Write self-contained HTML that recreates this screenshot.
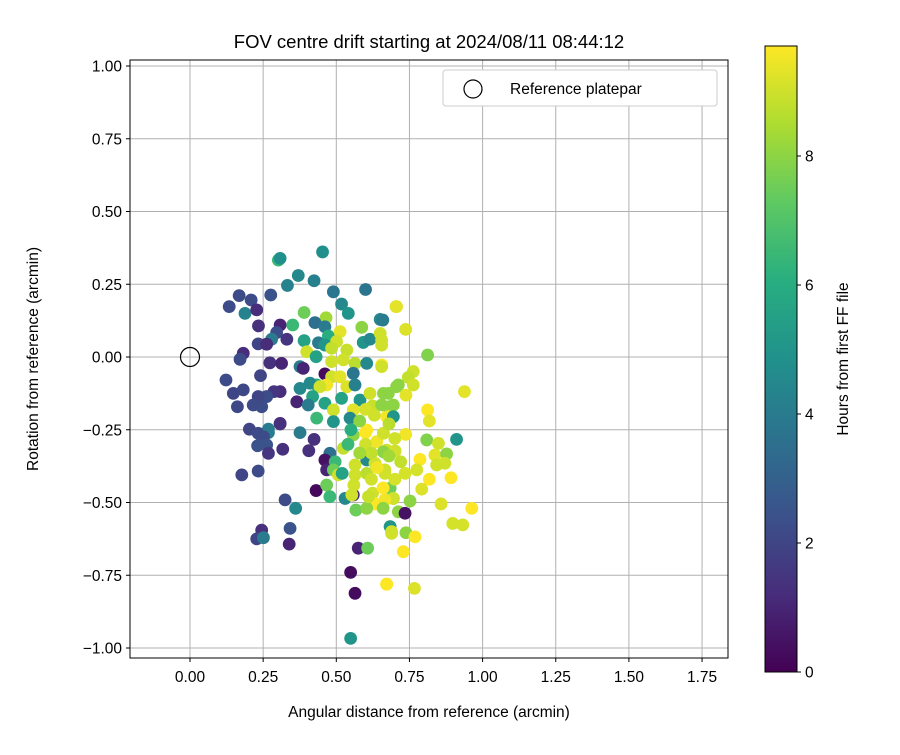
<!DOCTYPE html>
<html><head><meta charset="utf-8"><style>
body{margin:0;background:#fff;}
svg text{font-family:"Liberation Sans","DejaVu Sans",sans-serif;fill:#000;}
</style></head><body>
<svg id="c" width="900" height="750" xmlns="http://www.w3.org/2000/svg">
<defs><linearGradient id="vir" x1="0" y1="1" x2="0" y2="0">
<stop offset="0" stop-color="#440154"/><stop offset="0.125" stop-color="#472d7b"/><stop offset="0.25" stop-color="#3b528b"/><stop offset="0.375" stop-color="#2c728e"/><stop offset="0.5" stop-color="#21918c"/><stop offset="0.625" stop-color="#28ae80"/><stop offset="0.75" stop-color="#5ec962"/><stop offset="0.875" stop-color="#addc30"/><stop offset="1" stop-color="#fde725"/>
</linearGradient></defs>
<rect width="900" height="750" fill="#fff"/>
<g id="grid"></g>
<g id="pts"></g>
<rect x="130" y="60" width="598" height="598" fill="none" stroke="#000" stroke-width="1"/>
<g id="ticks"></g>
<text x="429" y="48" font-size="18.5" text-anchor="middle">FOV centre drift starting at 2024/08/11 08:44:12</text>
<text x="429" y="717" font-size="15.5" text-anchor="middle">Angular distance from reference (arcmin)</text>
<text transform="translate(38,359) rotate(-90)" font-size="15.5" text-anchor="middle">Rotation from reference (arcmin)</text>
<g>
<rect x="443" y="70" width="274" height="36" rx="3" fill="#fff" stroke="#ccc"/>
<circle cx="473" cy="89" r="9" fill="none" stroke="#000" stroke-width="1.2"/>
<text x="510" y="94" font-size="15.5">Reference platepar</text>
</g>
<circle id="refpt" r="9.5" fill="none" stroke="#000" stroke-width="1.2"/>
<g>
<rect x="765" y="46" width="32" height="626" fill="url(#vir)" stroke="#000" stroke-width="1"/>
<g id="cbt"></g>
<text transform="translate(848,359) rotate(-90)" font-size="15.5" text-anchor="middle">Hours from first FF file</text>
</g>
</svg>
<script>
const xTicks=[0,0.25,0.5,0.75,1.0,1.25,1.5,1.75];
const yTicks=[1,0.75,0.5,0.25,0,-0.25,-0.5,-0.75,-1];
const cTicks=[0,2,4,6,8];
const xs=[0.453,0.302,0.308,0.370,0.424,0.333,0.276,0.168,0.209,0.134,0.188,0.228,0.490,0.600,0.518,0.541,0.390,0.465,0.427,0.650,0.704,0.234,0.308,0.351,0.296,0.331,0.279,0.233,0.262,0.390,0.439,0.461,0.473,0.513,0.501,0.587,0.592,0.615,0.650,0.655,0.182,0.171,0.399,0.431,0.461,0.484,0.536,0.273,0.313,0.376,0.387,0.484,0.524,0.564,0.604,0.655,0.123,0.241,0.461,0.484,0.513,0.536,0.558,0.564,0.433,0.410,0.467,0.444,0.376,0.419,0.308,0.287,0.262,0.233,0.148,0.182,0.162,0.245,0.216,0.365,0.404,0.461,0.518,0.581,0.615,0.661,0.706,0.490,0.558,0.624,0.655,0.695,0.672,0.433,0.490,0.547,0.308,0.203,0.268,0.604,
0.233,0.268,0.308,0.376,0.251,0.231,0.262,0.268,0.317,0.424,0.406,0.478,0.461,0.496,0.467,0.490,0.507,0.564,0.564,0.604,0.524,0.558,0.600,0.661,0.638,0.672,0.604,0.632,0.666,0.177,0.233,0.431,0.467,0.478,0.530,0.558,0.553,0.624,0.632,0.666,0.695,0.567,0.604,0.325,0.361,0.342,0.245,0.228,0.251,0.339,0.684,0.689,0.575,0.607,0.549,0.564,0.672,0.549,
0.706,0.659,0.737,0.655,0.812,0.655,0.763,0.746,0.763,0.712,0.678,0.738,0.938,0.812,0.818,0.678,0.678,0.695,0.661,0.737,0.809,0.849,0.911,0.837,0.877,0.786,0.871,0.843,0.701,0.661,0.735,0.775,0.666,0.818,0.892,0.792,0.684,0.695,0.666,0.752,0.858,0.963,0.712,0.735,0.898,0.932,0.684,0.689,0.738,0.769,0.729,0.672,0.767,
0.60,0.62,0.58,0.64,0.56,0.70,0.72,0.66,0.62,0.58,0.60,0.68,0.63,0.54,0.52,0.55,0.66,0.61,0.68,0.70];
const ys=[0.361,0.333,0.339,0.280,0.262,0.246,0.213,0.211,0.196,0.173,0.150,0.162,0.224,0.232,0.182,0.150,0.153,0.135,0.118,0.129,0.173,0.107,0.110,0.110,0.084,0.061,0.061,0.045,0.044,0.056,0.049,0.104,0.072,0.087,0.053,0.102,0.050,0.061,0.081,0.041,0.013,-0.008,0.018,0.001,0.041,0.030,0.024,-0.020,-0.022,-0.033,-0.039,-0.016,-0.010,-0.022,-0.022,-0.027,-0.079,-0.064,-0.058,-0.068,-0.068,-0.102,-0.056,-0.096,-0.096,-0.090,-0.096,-0.102,-0.108,-0.136,-0.119,-0.119,-0.136,-0.136,-0.125,-0.113,-0.171,-0.171,-0.165,-0.154,-0.165,-0.159,-0.142,-0.148,-0.125,-0.125,-0.102,-0.182,-0.182,-0.168,-0.165,-0.165,-0.205,-0.210,-0.222,-0.210,-0.228,-0.248,-0.248,-0.251,
-0.262,-0.260,-0.230,-0.260,-0.274,-0.305,-0.302,-0.331,-0.317,-0.283,-0.322,-0.331,-0.354,-0.360,-0.388,-0.388,-0.405,-0.371,-0.405,-0.400,-0.314,-0.268,-0.260,-0.262,-0.291,-0.320,-0.354,-0.365,-0.388,-0.405,-0.392,-0.459,-0.440,-0.480,-0.486,-0.474,-0.474,-0.468,-0.505,-0.491,-0.486,-0.526,-0.520,-0.491,-0.520,-0.589,-0.595,-0.625,-0.621,-0.643,-0.583,-0.606,-0.657,-0.657,-0.740,-0.812,-0.781,-0.967,
0.173,0.127,0.095,0.058,0.007,-0.033,-0.050,-0.070,-0.096,-0.096,-0.125,-0.131,-0.119,-0.182,-0.220,-0.171,-0.205,-0.205,-0.262,-0.266,-0.285,-0.297,-0.283,-0.337,-0.333,-0.352,-0.365,-0.371,-0.323,-0.326,-0.400,-0.388,-0.400,-0.420,-0.415,-0.454,-0.451,-0.486,-0.491,-0.495,-0.505,-0.520,-0.532,-0.537,-0.572,-0.577,-0.583,-0.600,-0.604,-0.618,-0.669,-0.780,-0.795,
-0.30,-0.33,-0.22,-0.38,-0.44,-0.28,-0.36,-0.45,-0.42,-0.33,-0.18,-0.23,-0.20,-0.30,-0.40,-0.25,-0.52,-0.48,-0.34,-0.42];
const hours=[4.8,6.5,4.8,4.5,4.2,4.3,2.5,2.2,2.2,2.2,4.3,1.2,3.8,3.8,4.5,5,7.5,8.3,3.5,4.5,9.3,1.3,1.0,6.5,2.3,1.5,4,2.0,1.2,5.5,4,4,6,9.3,9,8,5,4.5,9,9,1.2,2.2,9,5.5,5,8.8,8.9,1.3,1.0,4,1.0,9,9,8.7,4.5,9.7,2.2,2.0,0.3,9,9.3,9.2,3.8,4.2,6,4.5,9.5,9,4.5,5.5,1.2,1.5,2.3,2.0,2.0,2.1,2.1,2.3,2.2,1.0,4,5.5,5.5,5,9,8,8,9,9.3,8.9,8,8,9.7,6.5,5,4.5,1.0,2,4,9.7,
2.2,4,1.3,4,2.2,2.5,2.5,1.5,1.3,1.3,1.3,3.5,0.5,6.5,1.0,7.5,9,9,9,8.7,8.8,8,9.7,9.3,9.5,9,4.5,9,9,2.0,2.2,0.2,7.5,6.5,4.5,1.0,9,9,9.7,9.3,8,7.5,8,2.2,4.5,2.5,1.3,2.0,4,1.0,8,9,1.0,7.5,0.3,0.3,9.7,5,
9.3,4,9.2,9,7.8,9,9,8.8,9,8,8,9.3,9.3,9.7,9.3,8,9.5,5,9,9.5,7.8,9,5,9.3,8,9.7,9,9,9,8,9.1,9.1,9,9.7,9.7,9.2,7.5,9,9.5,8,9.2,9.7,8,0.5,9.1,9.1,5,9,8,9.7,9.7,9.7,9.2,
9,8.8,8,9.5,9,9,8.8,9.7,9,8.3,9.1,8.7,9,6.5,5.5,6,8,8.9,8.3,9.1];
const NS="http://www.w3.org/2000/svg";
const X=v=>190+v*292.6, Y=v=>357-v*291, CY=v=>672-v*64.5;
const stops=[[68,1,84],[72,45,123],[59,82,139],[44,114,142],[33,145,140],[40,174,128],[94,201,98],[173,220,48],[253,231,37]];
function vir(h){let t=Math.max(0,Math.min(1,h/9.7))*8,i=Math.min(7,Math.floor(t)),f=t-i,a=stops[i],b=stops[i+1];
return `rgb(${a.map((c,k)=>Math.round(c+(b[k]-c)*f)).join(',')})`;}
function mk(tag,at,par){const e=document.createElementNS(NS,tag);for(const k in at)e.setAttribute(k,at[k]);par.appendChild(e);return e;}
const grid=document.getElementById('grid'),tk=document.getElementById('ticks');
xTicks.forEach(v=>{const l=mk('line',{x1:X(v),x2:X(v),y1:60,y2:658,stroke:'#b0b0b0','stroke-width':1},grid);


mk('line',{x1:X(v),x2:X(v),y1:658,y2:662,stroke:'#000'},tk);
const t=mk('text',{x:X(v),y:682,'font-size':15.5,'text-anchor':'middle'},tk);t.textContent=v.toFixed(2);

});
yTicks.forEach(v=>{const l=mk('line',{x1:130,x2:728,y1:Y(v),y2:Y(v),stroke:'#b0b0b0','stroke-width':1},grid);


mk('line',{x1:126,x2:130,y1:Y(v),y2:Y(v),stroke:'#000'},tk);
const t=mk('text',{x:122,y:Y(v)+5.5,'font-size':15.5,'text-anchor':'end'},tk);t.textContent=(v<0?'\u2212':'')+Math.abs(v).toFixed(2);

});
const pts=document.getElementById('pts');
for(let i=0;i<xs.length;i++){const c=mk('circle',{cx:X(xs[i]),cy:Y(ys[i]),r:6.4,fill:vir(hours[i])},pts);

}
const rp=document.getElementById('refpt');rp.setAttribute('cx',X(0));rp.setAttribute('cy',Y(0));
const cb=document.getElementById('cbt');
cTicks.forEach(v=>{mk('line',{x1:797,x2:801,y1:CY(v),y2:CY(v),stroke:'#000'},cb);
const t=mk('text',{x:805,y:CY(v)+5.5,'font-size':15.5},cb);t.textContent=v;

});
</script>
</body></html>
